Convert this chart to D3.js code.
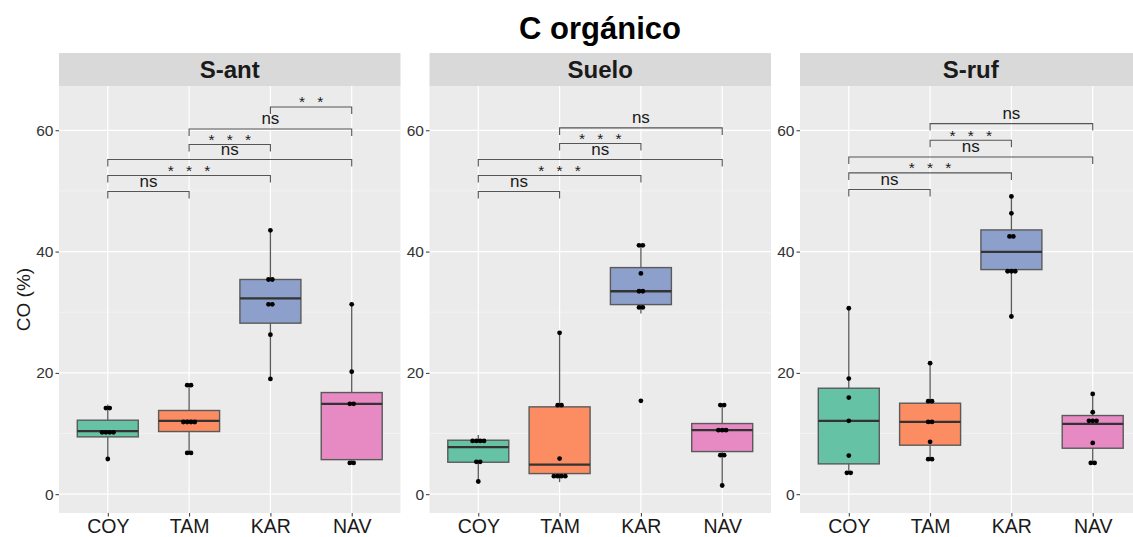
<!DOCTYPE html>
<html>
<head>
<meta charset="utf-8">
<script src="https://cdn.jsdelivr.net/npm/d3@7"></script>
<style>
  body { margin: 0; background: white; }
  svg { display: block; font-family: "Liberation Sans", Arial, sans-serif; }
</style>
</head>
<body>
<div id="chart"></div>
<script>
// facets and groups
var panels = ["S-ant", "Suelo", "S-ruf"];
var groups = ["COY", "TAM", "KAR", "NAV"];
var groupColors = ["#66C2A5", "#FC8D62", "#8DA0CB", "#E78AC3"];
var yTicks = [0, 20, 40, 60];

// box stats per group: [lower whisker, q1, median, q3, upper whisker]
var sAntStats = [[5.8, 9.45, 10.4, 12.2, 14.8], [6.8, 10.33, 12.1, 13.8, 17.97], [19.0, 28.2, 32.3, 35.4, 43.5], [5.16, 5.7, 14.9, 16.76, 31.3]];
var sueloStats = [[2.09, 5.27, 7.75, 8.9, 9.78], [1.98, 3.4, 4.89, 14.4, 26.6], [29.8, 31.26, 33.46, 37.36, 41.04], [1.43, 7.03, 10.55, 11.65, 14.7]];
var sRufStats = [[3.52, 5.0, 12.09, 17.47, 30.66], [5.77, 8.08, 11.92, 15.0, 21.6], [29.3, 37.03, 39.95, 43.57, 49.1], [5.16, 7.58, 11.59, 12.97, 16.54]];

// individual observations per group
var sAntPoints = [
  [14.2, 14.2, 10.2, 10.2, 10.2, 10.2, 5.8],
  [17.97, 17.97, 11.9, 11.9, 11.9, 11.9, 6.8, 6.8],
  [43.5, 35.4, 35.4, 31.3, 31.3, 26.3, 19.0],
  [31.3, 20.2, 14.9, 14.9, 5.16, 5.16]
];
var sueloPoints = [
  [8.79, 8.79, 8.79, 8.79, 5.33, 5.33, 2.09],
  [26.6, 14.67, 14.67, 5.88, 2.97, 2.97, 2.97, 2.97],
  [41.04, 41.04, 36.4, 33.46, 33.46, 30.8, 30.8, 15.4],
  [14.7, 14.7, 10.55, 10.55, 10.55, 6.43, 6.43, 1.43]
];
var sRufPoints = [
  [30.66, 19.07, 15.93, 12.09, 6.37, 3.52, 3.52],
  [21.6, 15.33, 15.33, 11.92, 11.92, 8.63, 5.77, 5.77],
  [49.1, 46.3, 42.5, 42.5, 36.76, 36.76, 36.76, 29.3],
  [16.54, 13.52, 12.09, 12.09, 12.09, 8.46, 5.16, 5.16]
];

// significance brackets: [group a, group b, height, label]
var sAntSig = [["COY", "TAM", 49.9, "ns"], ["COY", "KAR", 52.54, "***"], ["COY", "NAV", 55.18, "ns"],
  ["TAM", "KAR", 57.65, "***"], ["TAM", "NAV", 60.22, "ns"], ["KAR", "NAV", 63.85, "**"]];
var sueloSig = [["COY", "TAM", 49.9, "ns"], ["COY", "KAR", 52.54, "***"], ["COY", "NAV", 55.18, "ns"],
  ["TAM", "KAR", 57.82, "***"], ["TAM", "NAV", 60.39, "ns"]];
var sRufSig = [["COY", "TAM", 50.23, "ns"], ["COY", "KAR", 52.97, "***"], ["COY", "NAV", 55.6, "ns"],
  ["TAM", "KAR", 58.36, "***"], ["TAM", "NAV", 61.1, "ns"]];

var allStats = [sAntStats, sueloStats, sRufStats];
var allPoints = [sAntPoints, sueloPoints, sRufPoints];
var allSig = [sAntSig, sueloSig, sRufSig];

var W = 1133, H = 537;
var panelLeft = [59, 429.5, 800];
var panelW = 341.5;
var stripTop = 53, panelTop = 86, panelBottom = 513;

var svg = d3.select("#chart").append("svg")
  .attr("width", W)
  .attr("height", H);

var y = d3.scaleLinear()
  .domain([-3.1, 67.3])
  .range([panelBottom, panelTop]);

// title
svg.append("text")
  .attr("x", 600)
  .attr("y", 39)
  .attr("text-anchor", "middle")
  .style("font-size", "31px")
  .style("font-weight", "bold")
  .attr("fill", "#000")
  .text("C orgánico");

// y axis title
svg.append("text")
  .attr("transform", "translate(30," + ((panelTop + panelBottom) / 2) + ") rotate(-90)")
  .attr("text-anchor", "middle")
  .style("font-size", "19px")
  .attr("fill", "#1a1a1a")
  .text("CO (%)");

panels.forEach(function (name, p) {
  var x0 = panelLeft[p];
  var x = d3.scalePoint()
    .domain(groups)
    .range([x0, x0 + panelW])
    .padding(0.6);
  var step = x.step();
  var boxW = step * 0.75;

  var g = svg.append("g");

  // strip
  g.append("rect")
    .attr("x", x0).attr("y", stripTop)
    .attr("width", panelW).attr("height", panelTop - stripTop)
    .attr("fill", "#D9D9D9");
  g.append("text")
    .attr("x", x0 + panelW / 2)
    .attr("y", (stripTop + panelTop) / 2 + 8.5)
    .attr("text-anchor", "middle")
    .style("font-size", "24px")
    .style("font-weight", "bold")
    .attr("fill", "#1a1a1a")
    .text(name);

  // panel background + grid
  g.append("rect")
    .attr("x", x0).attr("y", panelTop)
    .attr("width", panelW).attr("height", panelBottom - panelTop)
    .attr("fill", "#EBEBEB");

  var minor = [10, 30, 50];
  g.selectAll("minorLines")
    .data(minor)
    .enter()
    .append("line")
    .attr("x1", x0).attr("x2", x0 + panelW)
    .attr("y1", function (d) { return y(d) }).attr("y2", function (d) { return y(d) })
    .attr("stroke", "#F7F7F7")
    .attr("stroke-width", 0.6);
  g.selectAll("majorLines")
    .data(yTicks)
    .enter()
    .append("line")
    .attr("x1", x0).attr("x2", x0 + panelW)
    .attr("y1", function (d) { return y(d) }).attr("y2", function (d) { return y(d) })
    .attr("stroke", "white")
    .attr("stroke-width", 1.2);
  g.selectAll("vertGrid")
    .data(groups)
    .enter()
    .append("line")
    .attr("x1", function (d) { return x(d) }).attr("x2", function (d) { return x(d) })
    .attr("y1", panelTop).attr("y2", panelBottom)
    .attr("stroke", "white")
    .attr("stroke-width", 1.2);

  // y axis
  var yAxis = g.append("g")
    .attr("transform", "translate(" + x0 + ",0)")
    .call(d3.axisLeft(y).tickValues(yTicks).tickSize(3.5).tickPadding(2));
  yAxis.select(".domain").remove();
  yAxis.selectAll("line").attr("stroke", "#333");
  yAxis.selectAll("text")
    .style("font-size", "15.5px")
    .style("font-family", "Liberation Sans, Arial, sans-serif")
    .attr("fill", "#333");

  // x axis
  var xAxis = g.append("g")
    .attr("transform", "translate(0," + panelBottom + ")")
    .call(d3.axisBottom(x).tickSize(3.5).tickPadding(3));
  xAxis.select(".domain").remove();
  xAxis.selectAll("line").attr("stroke", "#333");
  xAxis.selectAll("text")
    .style("font-size", "19.5px")
    .style("font-family", "Liberation Sans, Arial, sans-serif")
    .attr("fill", "#1a1a1a");

  var stats = allStats[p];

  // whiskers
  g.selectAll("whiskers")
    .data(stats)
    .enter()
    .append("line")
    .attr("x1", function (d, i) { return x(groups[i]) })
    .attr("x2", function (d, i) { return x(groups[i]) })
    .attr("y1", function (d) { return y(d[0]) })
    .attr("y2", function (d) { return y(d[4]) })
    .attr("stroke", "#5a5a5a")
    .attr("stroke-width", 1.3);

  // boxes
  g.selectAll("boxes")
    .data(stats)
    .enter()
    .append("rect")
    .attr("x", function (d, i) { return x(groups[i]) - boxW / 2 })
    .attr("y", function (d) { return y(d[3]) })
    .attr("width", boxW)
    .attr("height", function (d) { return y(d[1]) - y(d[3]) })
    .attr("fill", function (d, i) { return groupColors[i] })
    .attr("stroke", "#5a5a5a")
    .attr("stroke-width", 1.4);

  // medians
  g.selectAll("medianLines")
    .data(stats)
    .enter()
    .append("line")
    .attr("x1", function (d, i) { return x(groups[i]) - boxW / 2 })
    .attr("x2", function (d, i) { return x(groups[i]) + boxW / 2 })
    .attr("y1", function (d) { return y(d[2]) })
    .attr("y2", function (d) { return y(d[2]) })
    .attr("stroke", "#333")
    .attr("stroke-width", 2.3);

  // points, repeated values placed side by side
  var pts = [];
  allPoints[p].forEach(function (vals, i) {
    var counts = d3.rollup(vals, function (v) { return v.length }, function (v) { return v });
    var seen = new Map();
    vals.forEach(function (v) {
      var k = counts.get(v);
      var j = seen.get(v) || 0;
      seen.set(v, j + 1);
      pts.push({ group: groups[i], value: v, off: (j - (k - 1) / 2) * 3.8 });
    });
  });
  g.selectAll("indPoints")
    .data(pts)
    .enter()
    .append("circle")
    .attr("cx", function (d) { return x(d.group) + d.off })
    .attr("cy", function (d) { return y(d.value) })
    .attr("r", 2.4)
    .attr("fill", "black");

  // significance brackets
  var tick = 7;
  var br = g.selectAll("brackets")
    .data(allSig[p])
    .enter()
    .append("g");
  br.append("path")
    .attr("d", function (d) {
      var xa = x(d[0]), xb = x(d[1]), yy = y(d[2]);
      return "M" + xa + "," + (yy + tick) + "V" + yy + "H" + xb + "V" + (yy + tick);
    })
    .attr("fill", "none")
    .attr("stroke", "#555")
    .attr("stroke-width", 1.1);

  br.filter(function (d) { return d[3] == "ns" })
    .append("text")
    .attr("x", function (d) { return (x(d[0]) + x(d[1])) / 2 })
    .attr("y", function (d) { return y(d[2]) - 4.8 })
    .attr("text-anchor", "middle")
    .style("font-size", "17px")
    .attr("fill", "#1a1a1a")
    .text("ns");

  br.filter(function (d) { return d[3] != "ns" })
    .each(function (d) {
      var n = d[3].length;
      var mid = (x(d[0]) + x(d[1])) / 2;
      for (var s = 0; s < n; s++) {
        d3.select(this).append("text")
          .attr("x", mid + (s - (n - 1) / 2) * 18.3)
          .attr("y", y(d[2]) + 0.5)
          .attr("text-anchor", "middle")
          .style("font-size", "15.5px")
          .attr("fill", "#1a1a1a")
          .text("*");
      }
    });
});
</script>
</body>
</html>
